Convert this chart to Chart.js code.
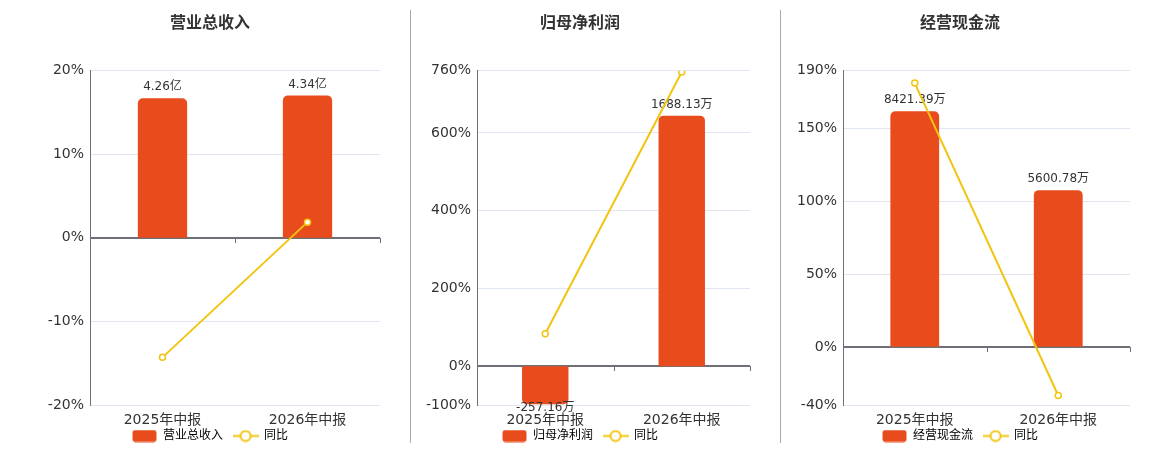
<!DOCTYPE html>
<html><head><meta charset="utf-8">
<script src="https://cdn.jsdelivr.net/npm/chart.js@4.4.1/dist/chart.umd.min.js"></script>
<style>
html,body{margin:0;padding:0;background:#fff;width:1160px;height:450px;overflow:hidden;position:relative}
.panel{position:absolute;top:0;height:452px}
.sep{position:absolute;top:10px;width:1px;height:433px;background:#aaaaaa}
</style></head><body>
<div class="panel" style="left:0;width:420px"><canvas id="c1"></canvas></div>
<div class="panel" style="left:400px;width:360px"><canvas id="c2"></canvas></div>
<div class="panel" style="left:770px;width:380px"><canvas id="c3"></canvas></div>
<div class="sep" style="left:410px"></div>
<div class="sep" style="left:780px"></div>
<script>
// ---- data ----
const categories = ['2025年中报', '2026年中报'];
const revenue = [4.26, 4.34];            // 亿
const revenueYoY = [-14.3, 1.88];        // %
const profit = [-257.16, 1688.13];       // 万
const profitYoY = [83.2, 756.46];        // %
const cashflow = [8421.39, 5600.78];     // 万
const cashflowYoY = [181.5, -33.49];     // %
const revenueTicks = [-20, -10, 0, 10, 20];
const profitTicks = [-100, 0, 200, 400, 600, 760];
const cashflowTicks = [-40, 0, 50, 100, 150, 190];

// ---- styles ----
const RED = '#E84C1D';
const YEL = '#F2C40F';
const FAMILY = "'DejaVu Sans', 'Noto Sans CJK SC', sans-serif";
Chart.defaults.font.family = FAMILY;
Chart.defaults.color = '#333';

function rectImg() {
  const c = document.createElement('canvas'); c.width = 25; c.height = 13;
  const g = c.getContext('2d'); g.fillStyle = RED;
  g.beginPath(); g.roundRect(0.5, 0.5, 24, 12, 3); g.fill();
  return c;
}
function lineImg() {
  const c = document.createElement('canvas'); c.width = 26; c.height = 13;
  const g = c.getContext('2d'); g.strokeStyle = YEL; g.lineWidth = 2;
  g.beginPath(); g.moveTo(0, 6.5); g.lineTo(26, 6.5); g.stroke();
  g.fillStyle = '#fff'; g.beginPath(); g.arc(13, 6.5, 5, 0, Math.PI * 2); g.fill(); g.stroke();
  return c;
}

const zeroLine = {
  id: 'zeroLine',
  beforeDatasetsDraw(chart) {
    const {ctx, chartArea: a, scales: {x, y}} = chart;
    const py = Math.round(y.getPixelForValue(0));
    ctx.save();
    ctx.strokeStyle = '#6E7079';
    ctx.lineWidth = 2;
    ctx.beginPath(); ctx.moveTo(a.left, py); ctx.lineTo(a.right, py); ctx.stroke();
    ctx.lineWidth = 1;
    const n = x.ticks.length;
    const half = (x.getPixelForTick(1) - x.getPixelForTick(0)) / 2;
    for (let i = 0; i < n; i++) {
      const px = Math.round(x.getPixelForTick(i) + half) + 0.5;
      ctx.beginPath(); ctx.moveTo(px, py); ctx.lineTo(px, py + 5); ctx.stroke();
    }
    ctx.restore();
  }
};

const barLabels = {
  id: 'barLabels',
  afterDatasetDraw(chart, args) {
    const ds = chart.data.datasets[args.index];
    if (ds.type !== 'bar') return;
    const {ctx} = chart;
    ctx.save();
    ctx.font = '12px ' + FAMILY;
    ctx.fillStyle = '#333';
    ctx.textAlign = 'center';
    ctx.textBaseline = 'middle';
    args.meta.data.forEach((el, i) => {
      const v = ds.data[i];
      const txt = v.toFixed(2) + ds.unit;
      if (v >= 0) ctx.fillText(txt, el.x, el.y - 11);
      else ctx.fillText(txt, el.x, el.y + 4);
    });
    ctx.restore();
  }
};

function makeChart(id, title, barName, unit, barData, yoyData, ticks, barMax, axisW, pad) {
  const yMin = ticks[0], yMax = ticks[ticks.length - 1];
  return new Chart(document.getElementById(id), {
    type: 'bar',
    data: {
      labels: categories,
      datasets: [
        {type: 'bar', label: barName, unit: unit, data: barData, yAxisID: 'y1',
         backgroundColor: RED, borderRadius: 5, borderSkipped: 'start',
         barPercentage: 0.34, categoryPercentage: 1, order: 2},
        {type: 'line', label: '同比', data: yoyData, yAxisID: 'y',
         borderColor: YEL, borderWidth: 2, pointRadius: 3, pointHoverRadius: 3,
         pointBackgroundColor: '#fff', pointBorderColor: YEL, pointBorderWidth: 1.5,
         tension: 0, order: 1}
      ]
    },
    options: {
      responsive: true, maintainAspectRatio: false, animation: false,
      layout: {padding: {left: pad, right: pad, top: 0, bottom: 0}},
      plugins: {
        title: {display: true, text: title, color: '#333',
                font: {size: 16, weight: 'bold'}, padding: {top: 14, bottom: 37.5}},
        legend: {
          position: 'bottom',
          labels: {
            usePointStyle: true, pointStyleWidth: 25, boxHeight: 12, padding: 10,
            font: {size: 12}, color: '#444',
            generateLabels: () => [
              {text: barName, pointStyle: rectImg(), fillStyle: RED, strokeStyle: RED, lineWidth: 0, hidden: false, datasetIndex: 0},
              {text: '同比', pointStyle: lineImg(), fillStyle: '#fff', strokeStyle: YEL, lineWidth: 0, hidden: false, datasetIndex: 1}
            ]
          }
        },
        tooltip: {enabled: false}
      },
      scales: {
        x: {
          grid: {display: false, drawTicks: false},
          border: {display: false},
          afterFit: s => { s.height = 15; s._computeLabelArea = () => undefined; },
          ticks: {color: '#333', font: {size: 14}, padding: 7}
        },
        y: {
          position: 'left', min: yMin, max: yMax,
          afterBuildTicks: s => { s.ticks = ticks.map(v => ({value: v})); },
          afterFit: s => { s.width = axisW; },
          ticks: {callback: v => v + '%', color: '#333', font: {size: 14}, padding: 6},
          grid: {color: '#E0E6F1', drawTicks: false, lineWidth: 1},
          border: {color: '#6E7079', width: 1}
        },
        y1: {
          display: false, position: 'right',
          min: barMax * yMin / yMax, max: barMax
        }
      }
    },
    plugins: [zeroLine, barLabels]
  });
}

makeChart('c1', '营业总收入', '营业总收入', '亿', revenue, revenueYoY, revenueTicks, 5.1, 50, 40);
makeChart('c2', '归母净利润', '归母净利润', '万', profit, profitYoY, profitTicks, 1991, 67, 10);
makeChart('c3', '经营现金流', '经营现金流', '万', cashflow, cashflowYoY, cashflowTicks, 9870, 53, 20);
</script>
</body></html>
